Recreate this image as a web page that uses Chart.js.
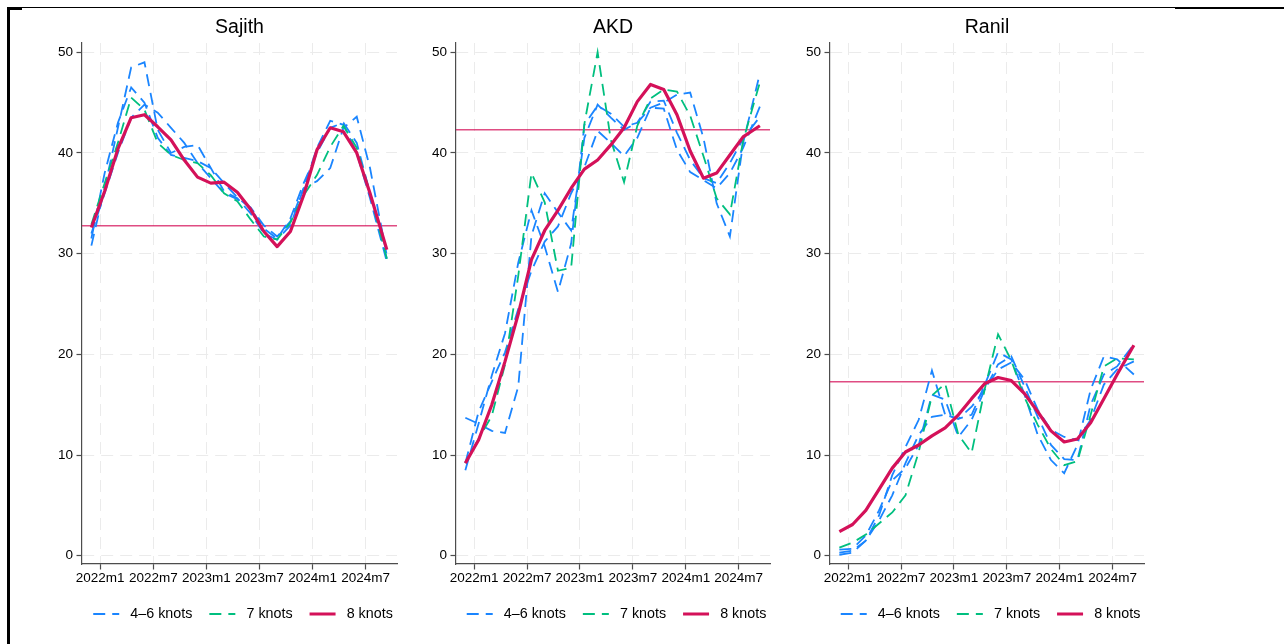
<!DOCTYPE html>
<html>
<head>
<meta charset="utf-8">
<script src="https://cdn.jsdelivr.net/npm/chart.js"></script>
<style>
  body { margin: 0; padding: 0; background: #fff; }
  #page { position: relative; width: 1284px; height: 644px; overflow: hidden; background: #fff; }
  canvas { position: absolute; top: 0; }
  .rule { position: absolute; background: #000; }
</style>
</head>
<body>
<div id="page">
  <div class="rule" style="left:7px;top:7px;width:1168px;height:1.3px"></div>
  <div class="rule" style="left:1175px;top:7px;width:109px;height:2.3px"></div>
  <div class="rule" style="left:7px;top:7px;width:2.6px;height:637px"></div>
  <div class="rule" style="left:7px;top:7px;width:15px;height:2.6px"></div>
  <canvas id="sajith" width="402" height="644" style="left:42px"></canvas>
  <canvas id="akd" width="401" height="644" style="left:416px"></canvas>
  <canvas id="ranil" width="401" height="644" style="left:790px"></canvas>
</div>

<script>
// months since 2022m1 (0 = 2022m1)
const months = [-1, 0.5, 2, 3.5, 5, 6.5, 8, 9.5, 11, 12.5, 14, 15.5, 17, 18.5, 20, 21.5, 23, 24.5, 26, 27.5, 29, 30.5, 32.4];
const xTickMonths = [0, 6, 12, 18, 24, 30];
const xTickLabels = ['2022m1', '2022m7', '2023m1', '2023m7', '2024m1', '2024m7'];
const yTicks = [0, 10, 20, 30, 40, 50];
const seriesLabels = ['4–6 knots', '7 knots', '8 knots'];

// Sajith
const sajith4 = [30.8, 36.5, 42.5, 48.5, 49.0, 42.3, 40.0, 40.6, 40.8, 38.5, 36.2, 35.5, 34.0, 32.0, 31.4, 32.8, 36.5, 40.5, 43.2, 42.8, 40.0, 35.5, 29.2];
const sajith5 = [31.5, 38.0, 43.0, 46.5, 45.0, 41.5, 39.8, 39.5, 39.2, 38.5, 37.0, 35.6, 34.5, 32.5, 31.5, 33.5, 37.0, 40.0, 42.5, 43.0, 41.0, 36.0, 29.5];
const sajith6 = [32.0, 36.0, 40.0, 43.5, 44.8, 44.0, 42.5, 41.0, 39.0, 37.5, 36.0, 35.4, 34.6, 32.8, 31.7, 33.2, 36.5, 37.2, 38.5, 42.5, 43.6, 38.5, 29.8];
const sajith7 = [32.9, 37.0, 41.0, 45.5, 44.3, 41.0, 39.8, 39.3, 39.0, 37.8, 36.0, 35.2, 33.4, 31.7, 31.4, 33.1, 35.8, 37.8, 40.6, 42.7, 40.5, 36.0, 29.5];
const sajith8 = [32.6, 36.2, 40.4, 43.5, 43.8, 42.6, 41.3, 39.3, 37.6, 37.0, 37.1, 36.1, 34.4, 32.2, 30.7, 32.2, 35.8, 40.3, 42.5, 42.1, 40.0, 36.0, 30.4];

// AKD
const akd4 = [13.7, 13.1, 12.4, 12.2, 16.8, 31.8, 36.0, 34.1, 32.3, 41.5, 44.8, 43.5, 42.3, 43.0, 44.5, 45.0, 45.8, 46.0, 41.5, 35.0, 31.7, 41.0, 47.9];
const akd5 = [8.5, 13.1, 17.9, 22.1, 29.1, 34.3, 30.7, 26.2, 31.0, 42.8, 44.7, 43.9, 42.6, 43.0, 45.1, 45.2, 42.0, 39.3, 37.5, 37.0, 39.0, 41.4, 43.6];
const akd6 = [9.2, 14.3, 17.3, 20.2, 24.5, 28.3, 31.2, 32.7, 36.0, 38.6, 42.2, 41.0, 39.7, 41.5, 44.5, 44.4, 40.3, 38.1, 37.3, 36.5, 38.0, 40.5, 44.6];
const akd7 = [9.2, 11.6, 13.9, 19.0, 27.8, 38.0, 35.1, 28.3, 28.6, 42.9, 50.0, 41.3, 37.1, 42.7, 45.4, 46.3, 46.1, 43.7, 39.7, 35.5, 33.9, 41.2, 47.0];
const akd8 = [9.2, 11.5, 15.0, 19.3, 24.0, 29.4, 32.3, 34.3, 36.5, 38.4, 39.3, 40.8, 42.5, 45.1, 46.8, 46.3, 43.8, 40.2, 37.5, 38.0, 39.8, 41.6, 42.7];

// Ranil
const ranil4 = [0.1, 0.3, 1.5, 3.5, 6.0, 9.2, 12.0, 13.8, 14.0, 13.6, 14.8, 16.5, 18.5, 19.2, 17.5, 14.5, 12.5, 11.8, 11.5, 13.5, 17.0, 18.5, 19.3];
const ranil5 = [0.3, 0.5, 1.5, 4.0, 8.0, 10.8, 13.5, 18.4, 14.0, 13.6, 14.0, 17.0, 20.2, 19.5, 16.0, 12.0, 9.5, 8.2, 11.0, 16.5, 19.8, 19.5, 18.0];
const ranil6 = [0.6, 0.7, 2.0, 4.5, 7.5, 8.7, 11.0, 16.0, 15.5, 11.8, 13.5, 16.5, 19.0, 19.8, 16.8, 13.8, 11.0, 9.6, 9.5, 15.0, 18.0, 18.8, 21.0];
const ranil7 = [0.8, 1.3, 2.1, 3.2, 4.3, 6.0, 10.3, 15.9, 17.1, 12.0, 10.2, 16.6, 22.0, 19.4, 15.7, 13.0, 10.6, 9.0, 9.4, 14.0, 18.8, 19.6, 19.5];
const ranil8 = [2.4, 3.1, 4.5, 6.6, 8.7, 10.3, 11.0, 11.9, 12.7, 14.0, 15.6, 17.1, 17.7, 17.4, 16.1, 14.3, 12.4, 11.3, 11.6, 13.2, 15.6, 18.0, 20.9];

// reference (election result) lines
const actualResult = { sajith: 32.76, akd: 42.31, ranil: 17.27 };

const xMin = -2.06, xMax = 33.55;
const yMin = -0.82, yMax = 50.92;

const BLUE = '#1a85ff', GREEN = '#00bf7f', RED = '#d41159';
const AXIS = '#4d4d4d';

Chart.defaults.font.family = "'Liberation Sans', Arial, Helvetica, sans-serif";
Chart.defaults.color = '#000';

function pts(vals) {
  return vals.map((v, i) => ({ x: months[i], y: v }));
}

function makePanel(id, title, s4, s5, s6, s7, s8, ref) {
  const dashed = (vals, color, label, hide) => ({
    label: label, data: pts(vals), borderColor: color, borderWidth: 1.8,
    borderDash: [12, 7], pointRadius: 0, tension: 0, fill: false, order: 2, noLegend: hide
  });
  const datasets = [
    dashed(s4, BLUE, seriesLabels[0], false),
    dashed(s5, BLUE, seriesLabels[0], true),
    dashed(s6, BLUE, seriesLabels[0], true),
    Object.assign(dashed(s7, GREEN, seriesLabels[1], false), { order: 1 }),
    {
      label: seriesLabels[2], data: pts(s8), borderColor: RED, borderWidth: 3.2,
      pointRadius: 0, tension: 0, fill: false, order: 0, borderJoinStyle: 'round'
    },
    {
      label: '', data: [{ x: xMin, y: ref }, { x: xMax, y: ref }],
      borderColor: 'rgba(212,17,89,0.75)', borderWidth: 1.5, pointRadius: 0,
      fill: false, order: 5, noLegend: true
    }
  ];

  new Chart(document.getElementById(id), {
    type: 'line',
    data: { datasets },
    options: {
      responsive: false,
      animation: false,
      layout: { padding: { top: 0, left: 0, right: 0, bottom: 12.85 } },
      plugins: {
        tooltip: { enabled: false },
        title: {
          display: true, text: title, fullSize: false, color: '#000',
          font: { size: 19.5, weight: 'normal' },
          padding: { top: 16.3, bottom: 3.3 }
        },
        legend: {
          position: 'bottom', fullSize: true,
          labels: {
            usePointStyle: true, pointStyle: 'line', pointStyleWidth: 26,
            padding: 17, color: '#000', font: { size: 14.3 },
            // line samples keep the dataset's dash pattern
            generateLabels: chart => Chart.defaults.plugins.legend.labels.generateLabels(chart)
              .map(l => Object.assign(l, {
                text: ' ' + l.text,
                lineDash: chart.data.datasets[l.datasetIndex].borderDash || []
              })),
            filter: (item, data) => !data.datasets[item.datasetIndex].noLegend,
            sort: (a, b) => a.datasetIndex - b.datasetIndex
          }
        }
      },
      scales: {
        x: {
          type: 'linear', min: xMin, max: xMax,
          afterBuildTicks: s => { s.ticks = xTickMonths.map(v => ({ value: v })); },
          afterFit: s => { s.height = 25.85; },
          ticks: {
            callback: (v, i) => xTickLabels[i], autoSkip: false, maxRotation: 0,
            font: { size: 13.5 }, color: '#000', padding: 1
          },
          grid: { color: '#ebebeb', lineWidth: 1, tickLength: 5.5, tickColor: AXIS, tickWidth: 1.2 },
          border: { color: AXIS, width: 1.2, dash: [12, 7] }
        },
        y: {
          type: 'linear', min: yMin, max: yMax,
          afterBuildTicks: s => { s.ticks = yTicks.map(v => ({ value: v })); },
          afterFit: s => { s.width = 40; },
          ticks: { font: { size: 13.5 }, color: '#000', padding: 3.5 },
          grid: { color: '#ebebeb', lineWidth: 1, tickLength: 5.5, tickColor: AXIS, tickWidth: 1.2 },
          border: { color: AXIS, width: 1.2, dash: [12, 7] }
        },
        // empty right-hand margin so the legend can be wider than the plot
        yPad: {
          type: 'linear', position: 'right', min: 0, max: 1,
          afterFit: s => { s.width = 47; },
          ticks: { display: false },
          grid: { display: false, drawTicks: false },
          border: { display: false }
        }
      }
    }
  });
}

makePanel('sajith', 'Sajith', sajith4, sajith5, sajith6, sajith7, sajith8, actualResult.sajith);
makePanel('akd', 'AKD', akd4, akd5, akd6, akd7, akd8, actualResult.akd);
makePanel('ranil', 'Ranil', ranil4, ranil5, ranil6, ranil7, ranil8, actualResult.ranil);
</script>
</body>
</html>
